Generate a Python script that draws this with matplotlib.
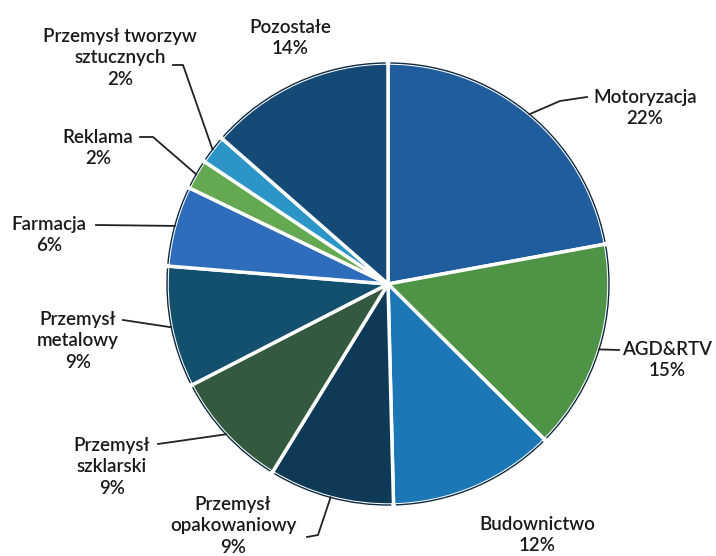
import numpy as np
import matplotlib
matplotlib.use("Agg")
from matplotlib import pyplot as plt
from matplotlib.patches import Arc

# shares (clockwise from 12 o'clock)
sectors = ["Motoryzacja", "AGD&RTV", "Budownictwo", "Przemysł\nopakowaniowy",
           "Przemysł\nszklarski", "Przemysł\nmetalowy", "Farmacja", "Reklama",
           "Przemysł tworzyw\nsztucznych", "Pozostałe"]
shares = [22.2, 15.4, 12.2, 9.2, 8.7, 8.9, 5.9, 2.2, 2.1, 13.6]
colors = ["#1f5d9e", "#4f9346", "#1b77b6", "#0f3a57", "#335a3e",
          "#12506e", "#2d6dbb", "#64a852", "#2a95c6", "#164a76"]

# label layout in pixels: text centre, leader line points (None = no line)
label_xy = [(645, 108), (667, 360), (537, 535), (233, 526), (112, 467),
            (78, 341), (49, 235), (98, 148), (120, 58), (290, 38)]
leaders = [[(560, 101), (587, 97)], [(619, 350)], None,
           [(318, 535), (307, 537)], [(158, 444)], [(123, 320)],
           [(96, 225)], [(153, 137), (140, 137)], [(183, 65), (173, 65)], None]

W, H = 716, 556
CX, CY, R = 388, 284, 221


def px(x, y):
    return (x - CX) / R, (CY - y) / R


plt.rcParams['font.family'] = ['Lato', 'DejaVu Sans']

fig = plt.figure(figsize=(W / 100, H / 100), dpi=100)
ax = fig.add_axes([0, 0, 1, 1])

wedges, _ = ax.pie(shares, colors=colors, startangle=90, counterclock=False,
                   radius=1.0, wedgeprops=dict(edgecolor="white", linewidth=2.5))

# thin dark rim along the outer arc of each wedge
for w in wedges:
    ax.add_patch(Arc((0, 0), 2, 2, theta1=w.theta1 + 0.6, theta2=w.theta2 - 0.6,
                     color="#0d2a40", lw=1.0, zorder=3))

total = sum(shares)
for w, name, val, pos, pts in zip(wedges, sectors, shares, label_xy, leaders):
    tx, ty = px(*pos)
    ax.text(tx, ty, f"{name}\n{val / total * 100:.0f}%", ha="center", va="center",
            fontsize=13.5, fontweight="semibold", color="#1a1a1a", linespacing=1.3)
    if pts is None:
        continue
    mid = np.deg2rad((w.theta1 + w.theta2) / 2)
    xs = [np.cos(mid)] + [px(*p)[0] for p in pts]
    ys = [np.sin(mid)] + [px(*p)[1] for p in pts]
    ax.plot(xs, ys, color="#222222", lw=1.3, zorder=4)

ax.set_xlim(-CX / R, (W - CX) / R)
ax.set_ylim(-(H - CY) / R, CY / R)
ax.set_aspect("auto")
ax.axis("off")

fig.savefig("out.png", dpi=100, facecolor="white")
